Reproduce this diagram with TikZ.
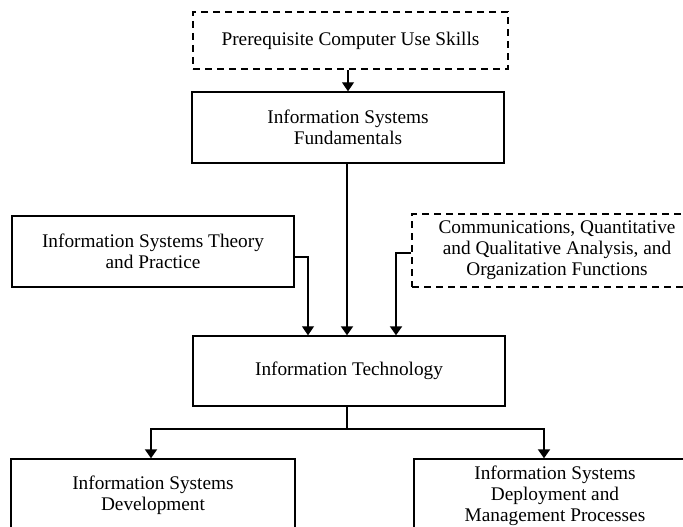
\documentclass[tikz,border=0pt]{standalone}
\usepackage{fontspec}
\setmainfont{Liberation Serif}
\usetikzlibrary{arrows.meta,positioning}

\begin{document}
\begin{tikzpicture}[x=1pt,y=-1pt,line cap=butt,line join=miter,
  box/.style={draw,line width=1.4pt,align=center,inner sep=0pt,font=\fontsize{19.3pt}{21pt}\selectfont},
  optbox/.style={box,dashed,dash pattern=on 7pt off 5pt,line width=1.7pt},
  link/.style={line width=1.1pt,-{Triangle[width=12pt,length=9pt]}},
  boldlink/.style={link,line width=1.9pt}]
  \useasboundingbox (0,0) rectangle (683,527);
  \node[optbox,minimum width=315pt,minimum height=57pt] (pre) at (350.5,40.5) {Prerequisite Computer Use Skills};
  \node[box,minimum width=312pt,minimum height=71pt] (fund) at (348,127.5) {Information Systems\\Fundamentals};
  \node[box,minimum width=282pt,minimum height=71pt] (theory) at (153,251.5) {Information Systems Theory\\and Practice};
  \node[optbox,minimum width=290pt,minimum height=73pt] (comm) at (557,250.5) {Communications, Quantitative\\and Qualitative Analysis, and\\Organization Functions};
  \node[box,minimum width=312pt,minimum height=70pt] (it) at (349,371) {Information Technology};
  \node[box,minimum width=284pt,minimum height=72pt] (dev) at (153,495) {Information Systems\\Development};
  \node[box,minimum width=282pt,minimum height=73pt] (deploy) at (555,495.5) {Information Systems\\Deployment and\\Management Processes};
  \coordinate (split) at (347,429);
  \draw[link] (fund.north |- pre.south) -- (fund.north);
  \draw[boldlink] (fund.south -| split) -- (it.north -| split);
  \draw[link] ([yshift=-5.5pt]theory.east) -| ([xshift=-41pt]it.north);
  \draw[boldlink] ([yshift=-2.5pt]comm.west) -| ([xshift=47pt]it.north);
  \draw[line width=1.4pt] (it.south -| split) -- (split);
  \draw[boldlink] (split) -| ([xshift=-2pt]dev.north);
  \draw[boldlink] (split) -| ([xshift=-11pt]deploy.north);
\end{tikzpicture}
\end{document}
